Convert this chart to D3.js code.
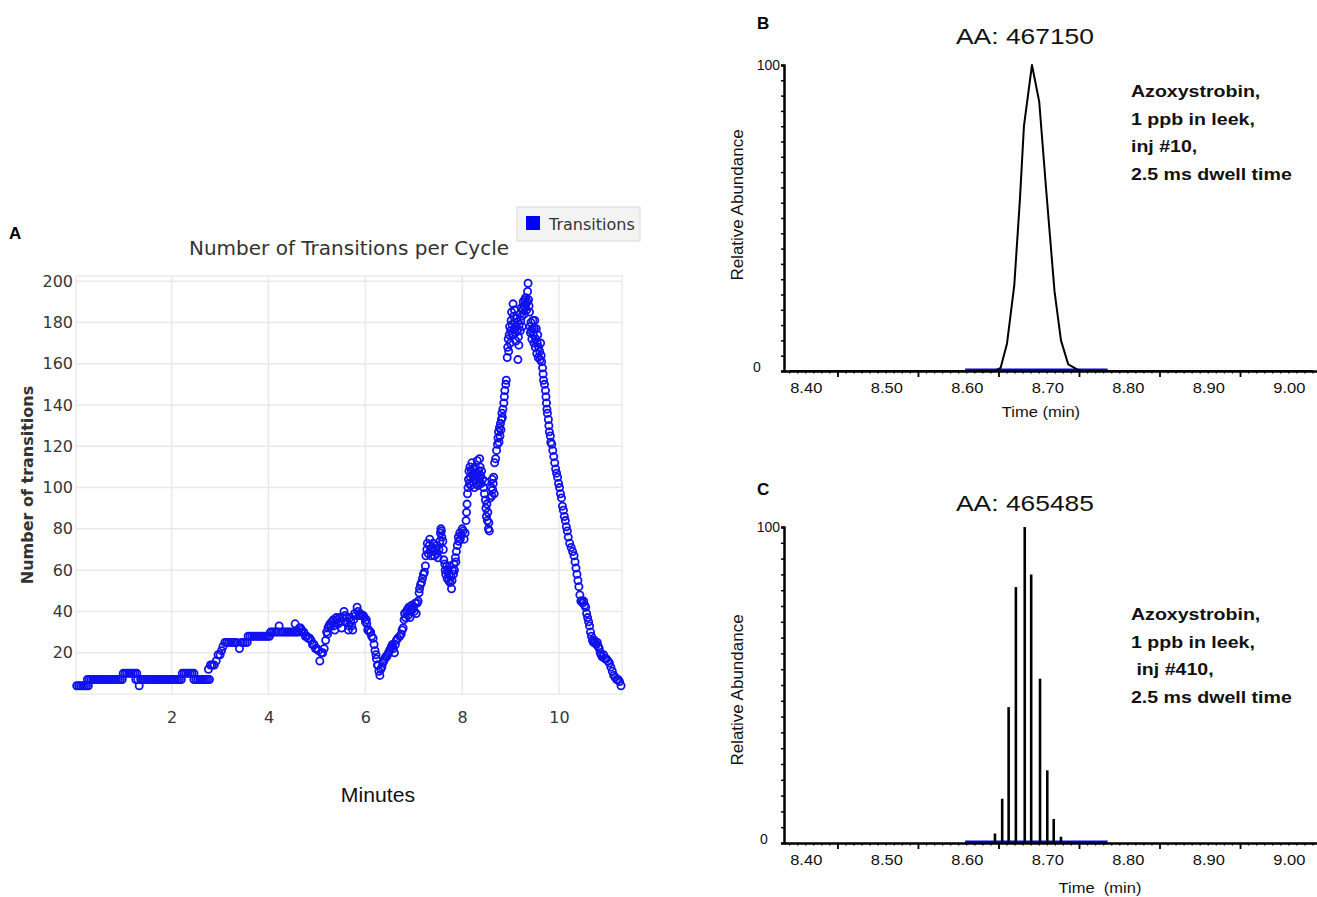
<!DOCTYPE html>
<html>
<head>
<meta charset="utf-8">
<script src="https://cdn.jsdelivr.net/npm/d3@7"></script>
<style>
  body { margin: 0; background: #fff; }
  svg { display: block; }
</style>
</head>
<body>
<svg id="fig" width="1317" height="897"></svg>
<script>
// ---- panel A : transitions per cycle, [minutes, transitions]
const transitionPoints = [
  [0.04,4],[0.08,4],[0.12,4],[0.16,4],[0.20,4],[0.24,4],[0.28,4],
  [0.26,7],[0.30,7],[0.34,7],[0.38,7],[0.42,7],[0.46,7],[0.50,7],[0.54,7],[0.58,7],[0.62,7],[0.66,7],
  [0.70,7],[0.74,7],[0.78,7],[0.82,7],[0.86,7],[0.90,7],[0.94,7],[0.98,7],
  [1.00,10],[1.04,10],[1.08,10],[1.12,10],[1.16,10],[1.20,10],[1.24,10],[1.28,10],
  [1.33,4],
  [1.26,7],[1.30,7],[1.36,7],[1.40,7],[1.44,7],[1.48,7],[1.52,7],[1.56,7],[1.60,7],[1.64,7],[1.68,7],
  [1.72,7],[1.76,7],[1.80,7],[1.84,7],[1.88,7],[1.92,7],[1.96,7],[2.00,7],[2.04,7],[2.08,7],[2.12,7],
  [2.16,7],[2.20,7],
  [2.22,10],[2.26,10],[2.30,10],[2.34,10],[2.38,10],[2.42,10],[2.46,10],
  [2.46,7],[2.50,7],[2.54,7],[2.58,7],[2.62,7],[2.66,7],[2.70,7],[2.74,7],[2.78,7],
  [2.76,12],[2.80,14],[2.84,14],[2.88,14],[2.92,16],[2.96,19],[3.00,19],[3.03,21],[3.06,23],[3.10,25],
  [3.14,25],[3.18,25],[3.22,25],[3.26,25],[3.30,25],[3.34,25],[3.40,22],[3.44,25],[3.48,25],[3.52,25],
  [3.56,25],
  [3.58,28],[3.62,28],[3.66,28],[3.70,28],[3.74,28],[3.78,28],[3.82,28],[3.86,28],[3.90,28],[3.94,28],
  [3.98,28],[4.02,28],
  [4.04,30],[4.08,30],[4.12,30],[4.16,30],[4.20,30],[4.22,33],[4.26,30],[4.30,30],[4.34,30],[4.38,30],
  [4.42,30],[4.46,30],[4.50,30],[4.54,30],[4.55,34],[4.58,30],[4.62,30],[4.64,32],
  [4.66,32],[4.68,31],[4.70,30],[4.73,30],[4.76,28],[4.79,28],[4.82,27],[4.85,27],[4.88,26],[4.91,24],
  [4.94,24],[4.97,22],[5.00,22],[5.03,21],[5.06,16],[5.09,20],[5.12,20],[5.15,22],[5.18,26],
  [5.20,30],[5.22,29],[5.23,32],[5.25,33],[5.27,34],[5.29,33],[5.31,35],[5.34,36],[5.35,33],[5.37,31],
  [5.39,35],[5.40,37],[5.42,36],[5.44,34],[5.47,37],[5.49,35],[5.51,32],[5.53,37],[5.56,40],[5.58,38],
  [5.60,35],[5.62,37],[5.65,31],[5.66,33],[5.68,37],[5.70,35],[5.72,33],[5.74,31],[5.76,36],[5.78,39],
  [5.80,38],[5.83,42],[5.85,40],[5.87,38],[5.89,39],[5.91,38],[5.94,38],[5.96,38],[5.98,37],[6.00,35],
  [6.02,36],[6.03,34],[6.05,31],[6.07,31],[6.09,30],[6.11,30],[6.13,28],[6.16,27],[6.18,24],[6.20,21],
  [6.22,19],[6.23,17],[6.25,14],[6.26,14],[6.28,11],[6.30,9],
  [6.32,12],[6.34,13],[6.36,15],[6.38,16],[6.40,17],[6.42,18],[6.44,18],[6.46,19],[6.48,20],[6.50,21],
  [6.52,22],[6.54,23],[6.56,24],[6.58,22],[6.60,20],[6.62,24],
  [6.64,26],[6.67,27],[6.71,28],[6.74,29],[6.76,31],[6.78,32],[6.80,36],[6.81,39],[6.83,37],[6.85,40],
  [6.87,41],[6.88,38],[6.90,42],[6.92,37],[6.94,40],[6.96,43],[6.98,41],[6.99,42],[7.01,40],[7.03,44],
  [7.05,39],[7.07,44],[7.09,45],[7.11,49],[7.12,51],[7.14,53],[7.16,54],[7.18,56],[7.20,58],[7.22,59],
  [7.24,62],[7.25,67],[7.27,70],[7.28,73],[7.30,68],[7.32,72],[7.33,75],[7.35,70],[7.36,67],[7.38,71],
  [7.40,73],[7.41,69],[7.43,67],[7.45,70],[7.47,72],[7.48,68],[7.50,66],[7.52,70],[7.54,74],[7.55,78],
  [7.56,80],[7.57,79],[7.58,76],[7.60,74],[7.61,70],[7.62,65],[7.64,63],[7.65,60],[7.66,58],[7.68,62],
  [7.69,56],[7.70,60],[7.72,55],[7.73,58],[7.74,62],[7.75,54],[7.77,57],[7.78,51],[7.79,55],[7.80,60],
  [7.82,58],[7.83,63],[7.84,60],[7.86,66],[7.87,64],[7.88,69],[7.90,72],[7.92,76],[7.93,74],[7.95,78],
  [7.96,75],[7.98,77],[8.00,80],[8.02,79],[8.04,75],[8.06,78],[8.08,84],[8.09,88],[8.10,92],[8.11,97],
  [8.12,100],[8.13,104],[8.14,108],[8.15,102],[8.16,110],[8.17,105],[8.18,101],[8.19,108],[8.20,112],
  [8.21,106],[8.22,103],[8.23,109],[8.24,104],[8.25,100],[8.26,106],[8.27,110],[8.28,104],[8.29,102],
  [8.30,107],[8.31,113],[8.32,105],[8.33,101],[8.34,108],[8.35,104],[8.36,114],[8.37,110],[8.38,106],
  [8.39,102],[8.40,108],[8.42,104],[8.44,100],[8.46,97],[8.47,103],[8.48,94],[8.49,90],[8.50,86],
  [8.51,92],[8.52,84],[8.53,88],[8.54,80],[8.55,83],[8.56,79],[8.58,95],[8.60,100],[8.61,96],[8.62,104],
  [8.63,99],[8.64,102],[8.65,105],[8.66,97],[8.67,112],[8.69,114],[8.71,118],[8.73,121],
  [8.74,124],[8.75,127],[8.76,122],[8.77,129],[8.78,125],[8.79,131],[8.80,128],[8.81,133],[8.82,136],
  [8.83,134],[8.84,138],[8.86,141],[8.87,144],[8.88,147],[8.90,150],[8.91,152],
  [8.93,163],[8.94,168],[8.95,172],[8.96,166],[8.97,174],[8.98,178],[8.99,170],[9.00,176],[9.01,181],
  [9.02,185],[9.03,179],[9.04,174],[9.05,189],[9.06,183],[9.07,177],[9.08,186],[9.09,180],[9.10,175],
  [9.11,171],[9.12,178],[9.13,182],[9.14,176],[9.15,162],[9.16,173],[9.17,169],[9.18,179],[9.19,184],
  [9.20,176],[9.21,181],[9.22,187],[9.23,183],[9.24,178],[9.25,186],[9.26,190],[9.27,188],[9.28,184],
  [9.29,191],[9.30,187],[9.31,192],[9.32,189],[9.33,186],[9.34,190],[9.35,195],[9.36,199],[9.37,191],
  [9.38,188],[9.39,185],[9.40,178],[9.41,175],[9.42,180],[9.43,176],[9.44,172],[9.45,177],[9.46,181],
  [9.47,174],[9.48,170],[9.49,177],[9.50,181],[9.51,168],[9.52,172],[9.53,177],[9.54,165],[9.55,170],
  [9.56,174],[9.57,163],[9.58,168],[9.60,166],[9.61,162],[9.62,170],[9.63,164],[9.64,161],[9.66,158],
  [9.67,155],[9.68,152],[9.70,150],[9.72,147],[9.73,144],[9.74,141],[9.75,138],[9.76,136],[9.78,133],
  [9.79,130],[9.80,127],[9.82,125],[9.83,122],[9.85,121],[9.87,118],[9.89,115],[9.91,112],[9.93,109],
  [9.95,107],[9.97,105],[9.99,102],[10.01,100],[10.03,97],[10.05,95],[10.07,91],[10.09,89],[10.11,86],
  [10.13,84],[10.15,81],[10.17,79],[10.19,76],[10.22,73],[10.25,71],[10.28,69],[10.31,67],[10.33,64],
  [10.35,61],[10.37,58],[10.39,55],[10.41,52],[10.43,48],[10.45,45],[10.47,45],[10.49,44],[10.51,45],
  [10.53,43],[10.55,42],[10.57,39],[10.59,37],[10.61,35],[10.63,33],[10.65,30],[10.67,28],[10.69,26],
  [10.71,25],[10.73,26],[10.75,25],[10.77,24],[10.79,25],[10.81,23],[10.83,22],[10.85,20],[10.87,19],
  [10.89,18],[10.92,19],[10.95,17],[10.98,17],[11.01,16],[11.04,15],[11.07,13],[11.10,11],[11.13,9],
  [11.16,8],[11.19,7],[11.22,7],[11.25,6],[11.28,4]
];
const minuteTicks = [2, 4, 6, 8, 10];
const transitionTicks = [20, 40, 60, 80, 100, 120, 140, 160, 180, 200];

// ---- panel B : chromatogram, inj #10
const peakBTime  = [8.38, 8.635, 8.642, 8.650, 8.659, 8.666, 8.671, 8.681, 8.690, 8.699, 8.709, 8.717, 8.726, 8.737, 8.744, 9.03];
const peakBAbund = [0,    0,     1,     9,     28,    56,    80,    100,   88,    58,    26,    10,    2.2,   0.5,   0,     0];

// ---- panel C : chromatogram, inj #410 (individual scans)
const scanCTime  = [8.635, 8.644, 8.652, 8.661, 8.672, 8.680, 8.691, 8.700, 8.708, 8.717, 8.727];
const scanCAbund = [3,     14,    43,    81,    100,   85,    52,    23,    7.6,   2,     0.5];

const timeLabels = [8.40, 8.50, 8.60, 8.70, 8.80, 8.90, 9.00];
const integrationWindow = [8.598, 8.775];

const svg = d3.select("#fig");
const FA = "DejaVu Sans, Verdana, sans-serif";
const FH = "Liberation Sans, Arial, Helvetica, sans-serif";
const blue = "#1010f0";

function stretch(sel, k) {
  sel.each(function () {
    const w = this.getComputedTextLength();
    d3.select(this).attr("textLength", w * k).attr("lengthAdjust", "spacingAndGlyphs");
  });
}

// ================= PANEL A =================
const xA = d3.scaleLinear().domain([0.025, 11.3]).range([76, 622]);
const yA = d3.scaleLinear().domain([0, 202.5]).range([694, 276]);
const gA = svg.append("g");

gA.append("rect")
  .attr("x", xA.range()[0]).attr("y", yA.range()[1])
  .attr("width", xA.range()[1] - xA.range()[0])
  .attr("height", yA.range()[0] - yA.range()[1])
  .attr("fill", "#fff").attr("stroke", "#ececec").attr("stroke-width", 1.5);

gA.selectAll(".vgrid").data(minuteTicks).join("line")
  .attr("x1", d => xA(d)).attr("x2", d => xA(d))
  .attr("y1", yA.range()[1]).attr("y2", yA.range()[0])
  .attr("stroke", "#e9e9e9").attr("stroke-width", 1.5);
gA.selectAll(".hgrid").data(transitionTicks).join("line")
  .attr("x1", xA.range()[0]).attr("x2", xA.range()[1])
  .attr("y1", d => yA(d)).attr("y2", d => yA(d))
  .attr("stroke", "#e9e9e9").attr("stroke-width", 1.5);

const axA_y = gA.append("g").attr("transform", `translate(${xA.range()[0]},0)`)
  .call(d3.axisLeft(yA).tickValues(transitionTicks).tickSize(0).tickPadding(3));
axA_y.select(".domain").remove();
axA_y.selectAll("text").attr("font-family", FA).attr("font-size", 16).attr("fill", "#363636");

const axA_x = gA.append("g").attr("transform", `translate(0,${yA.range()[0]})`)
  .call(d3.axisBottom(xA).tickValues(minuteTicks).tickSize(0).tickPadding(18));
axA_x.select(".domain").remove();
axA_x.selectAll("text").attr("font-family", FA).attr("font-size", 16).attr("fill", "#363636");

gA.selectAll(".pt").data(transitionPoints).join("circle")
  .attr("cx", d => xA(d[0])).attr("cy", d => yA(d[1])).attr("r", 3.6)
  .attr("fill", "none").attr("stroke", blue).attr("stroke-width", 1.8);

gA.append("text").attr("x", 349).attr("y", 255).attr("text-anchor", "middle")
  .attr("font-family", FA).attr("font-size", 20).attr("fill", "#333")
  .text("Number of Transitions per Cycle");

gA.append("text").attr("transform", "translate(33,485) rotate(-90)").attr("text-anchor", "middle")
  .attr("font-family", FA).attr("font-size", 16).attr("font-weight", "bold").attr("fill", "#333")
  .text("Number of transitions");

gA.append("text").attr("x", 378).attr("y", 802).attr("text-anchor", "middle")
  .attr("font-family", FH).attr("font-size", 20).attr("fill", "#111")
  .text("Minutes").call(stretch, 1.06);

gA.append("text").attr("x", 9).attr("y", 239)
  .attr("font-family", FH).attr("font-size", 17).attr("font-weight", "bold").text("A");

// legend
const lg = gA.append("g").attr("transform", "translate(517,207)");
lg.append("rect").attr("width", 123).attr("height", 34).attr("fill", "#f3f3f3").attr("stroke", "#dadada");
lg.append("rect").attr("x", 9).attr("y", 9).attr("width", 14).attr("height", 14).attr("fill", "#0000ff");
lg.append("text").attr("x", 32).attr("y", 23).attr("font-family", FA).attr("font-size", 16)
  .attr("fill", "#333").text("Transitions");

// ================= PANELS B and C =================
function chromPanel(cfg) {
  const x = d3.scaleLinear().domain([8.373, 9.035]).range([784, 1317]);
  const y = d3.scaleLinear().domain([0, 100]).range([cfg.base, cfg.top]);
  const g = svg.append("g");

  // blue integration baseline
  g.append("line")
    .attr("x1", x(integrationWindow[0])).attr("x2", x(integrationWindow[1]))
    .attr("y1", y(0) - 1).attr("y2", y(0) - 1)
    .attr("stroke", "#0000ff").attr("stroke-width", 3);

  cfg.drawData(g, x, y);

  // y axis
  const ay = g.append("g").attr("transform", `translate(${x.range()[0]},0)`)
    .call(d3.axisLeft(y).tickValues(d3.range(0, 101, 5)).tickSize(3).tickFormat(""));
  ay.select(".domain").attr("stroke", "#000").attr("stroke-width", 2.5);
  ay.selectAll(".tick line").attr("stroke-width", 1.5);

  // x axis: labels, major ticks sit to the right of the labels in the original
  const ax = g.append("g").attr("transform", `translate(0,${y(0)})`)
    .call(d3.axisBottom(x).tickValues(timeLabels).tickSize(0).tickPadding(11)
      .tickFormat(d3.format(".2f")));
  ax.select(".domain").attr("stroke", "#000").attr("stroke-width", 2.5);
  ax.selectAll("text").attr("font-family", FH).attr("font-size", 15).attr("fill", "#111")
    .call(stretch, 1.1);
  g.selectAll(".minor").data(d3.range(0, 66).map(i => 8.38 + i * 0.01)).join("line")
    .attr("x1", d => x(d)).attr("x2", d => x(d))
    .attr("y1", y(0)).attr("y2", y(0) + 2.5).attr("stroke", "#000").attr("stroke-width", 1.2);
  g.selectAll(".major").data(timeLabels.slice(0, 6).map(d => d + 0.04)).join("line")
    .attr("x1", d => x(d)).attr("x2", d => x(d))
    .attr("y1", y(0)).attr("y2", y(0) + 6).attr("stroke", "#000").attr("stroke-width", 1.8);

  // value labels on the y axis
  g.append("text").attr("x", cfg.lab100x).attr("y", y(100) + 5).attr("text-anchor", "end")
    .attr("font-family", FH).attr("font-size", 14).attr("fill", "#111").text("100");
  g.append("text").attr("x", cfg.lab0x).attr("y", y(0) + 1).attr("text-anchor", "middle")
    .attr("font-family", FH).attr("font-size", 14).attr("fill", "#111").text("0");

  g.append("text").attr("transform", `translate(743,${cfg.ylabY}) rotate(-90)`)
    .attr("text-anchor", "middle").attr("font-family", FH).attr("font-size", 17)
    .attr("fill", "#111").text("Relative Abundance");

  g.append("text").attr("x", cfg.xlabX).attr("y", cfg.xlabY).attr("text-anchor", "middle")
    .attr("font-family", FH).attr("font-size", 15).attr("fill", "#111")
    .style("white-space", "pre").text(cfg.xlab).call(stretch, 1.1);

  g.append("text").attr("x", 1025).attr("y", cfg.titleY).attr("text-anchor", "middle")
    .attr("font-family", FH).attr("font-size", 22).attr("fill", "#111")
    .text(cfg.title).call(stretch, 1.2);

  g.append("text").attr("x", 757).attr("y", cfg.letterY)
    .attr("font-family", FH).attr("font-size", 17).attr("font-weight", "bold").text(cfg.letter);

  g.selectAll(".note").data(cfg.note).join("text")
    .attr("x", 1131).attr("y", (d, i) => cfg.noteY + i * 27.5)
    .attr("font-family", FH).attr("font-size", 17).attr("font-weight", "bold").attr("fill", "#111")
    .style("white-space", "pre").text(d => d).call(stretch, 1.15);
}

chromPanel({
  top: 65, base: 371, letter: "B", letterY: 29, title: "AA: 467150", titleY: 44,
  lab100x: 780, lab0x: 757, ylabY: 205, xlab: "Time (min)", xlabX: 1041, xlabY: 417,
  noteY: 97, note: ["Azoxystrobin,", "1 ppb in leek,", "inj #10,", "2.5 ms dwell time"],
  drawData: (g, x, y) => {
    const line = d3.line().x(d => x(d[0])).y(d => y(d[1]));
    g.append("path").datum(d3.zip(peakBTime, peakBAbund))
      .attr("d", line).attr("fill", "none").attr("stroke", "#000").attr("stroke-width", 2)
      .attr("stroke-linejoin", "round");
  }
});

chromPanel({
  top: 527, base: 843, letter: "C", letterY: 495, title: "AA: 465485", titleY: 511,
  lab100x: 780, lab0x: 764, ylabY: 690, xlab: "Time  (min)", xlabX: 1100, xlabY: 893,
  noteY: 620, note: ["Azoxystrobin,", "1 ppb in leek,", " inj #410,", "2.5 ms dwell time"],
  drawData: (g, x, y) => {
    g.selectAll(".scan").data(d3.zip(scanCTime, scanCAbund)).join("line")
      .attr("x1", d => x(d[0])).attr("x2", d => x(d[0]))
      .attr("y1", y(0)).attr("y2", d => y(d[1]))
      .attr("stroke", "#000").attr("stroke-width", 2.6);
  }
});
</script>
</body>
</html>
